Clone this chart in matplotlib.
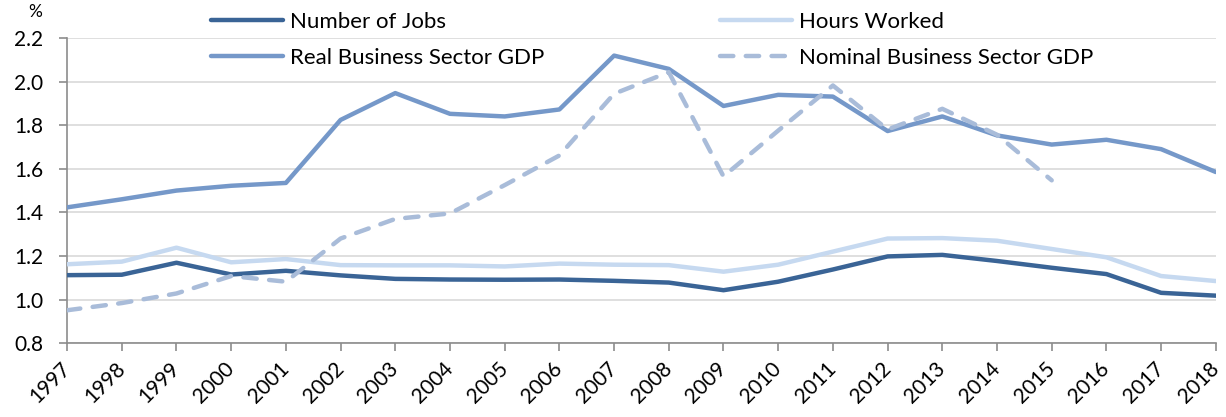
import matplotlib
matplotlib.use("Agg")
import matplotlib.pyplot as plt

years = list(range(1997, 2019))
jobs = [1.112, 1.114, 1.169, 1.115, 1.132, 1.111, 1.095, 1.092, 1.091, 1.092, 1.086,
        1.078, 1.043, 1.082, 1.138, 1.198, 1.205, 1.177, 1.146, 1.117, 1.031, 1.018]
hours = [1.162, 1.174, 1.238, 1.171, 1.186, 1.158, 1.157, 1.157, 1.152, 1.165, 1.160,
         1.158, 1.128, 1.160, 1.220, 1.280, 1.282, 1.270, 1.232, 1.194, 1.108, 1.085]
real_gdp = [1.423, 1.460, 1.500, 1.522, 1.535, 1.824, 1.947, 1.852, 1.840, 1.872, 2.119,
            2.058, 1.888, 1.939, 1.931, 1.773, 1.840, 1.753, 1.711, 1.733, 1.690, 1.585]
nominal_years = list(range(1997, 2016))
nominal_gdp = [0.951, 0.984, 1.028, 1.108, 1.082, 1.280, 1.370, 1.395, 1.525, 1.661, 1.944,
               2.043, 1.565, 1.775, 1.982, 1.780, 1.875, 1.756, 1.547]
y_ticks = [0.8, 1.0, 1.2, 1.4, 1.6, 1.8, 2.0, 2.2]

plt.rcParams['font.family'] = ['Lato', 'DejaVu Sans']

fig = plt.figure(figsize=(12.26, 4.17), dpi=100)
ax = fig.add_axes([0.0547, 0.177, 0.937, 0.732])

c_jobs = '#3A6496'
c_hours = '#C6D9F0'
c_real = '#7598C9'
c_nom = '#A9BCD9'

lw = 3.2
l_jobs, = ax.plot(years, jobs, color=c_jobs, lw=lw, label='Number of Jobs', zorder=4,
                  solid_capstyle='round')
l_hours, = ax.plot(years, hours, color=c_hours, lw=lw, label='Hours Worked', zorder=3,
                   solid_capstyle='round')
l_real, = ax.plot(years, real_gdp, color=c_real, lw=lw, label='Real Business Sector GDP',
                  zorder=3, solid_capstyle='round')
l_nom, = ax.plot(nominal_years, nominal_gdp, color=c_nom, lw=lw, ls=(0, (3.0, 2.8)),
                 label='Nominal Business Sector GDP', zorder=5, dash_capstyle='round')

ax.set_xlim(1997, 2018)
ax.set_ylim(0.8, 2.2)
ax.set_yticks(y_ticks)
ax.set_yticklabels([f'{v:.1f}' for v in y_ticks], fontsize=15)
ax.set_xticks(years)
ax.set_xticklabels([str(y) for y in years], rotation=45, ha='right', va='center',
                   rotation_mode='anchor', fontsize=15)
ax.grid(axis='y', color='#D9D9D9', lw=1.2, zorder=0)
ax.set_axisbelow(True)
for side in ['top', 'right']:
    ax.spines[side].set_visible(False)
for side in ['left', 'bottom']:
    ax.spines[side].set_color('#8C8C8C')
    ax.spines[side].set_linewidth(1.2)
ax.tick_params(axis='both', color='#8C8C8C', length=6, width=1.2)
ax.tick_params(axis='x', pad=10)
ax.tick_params(axis='y', pad=11)

fig.text(28 / 1226, 1 - 12 / 417, '%', fontsize=12.5, ha='left', va='center')

leg_kw = dict(loc='center left', frameon=False, fontsize=16, handlelength=3.25,
              handletextpad=0.32, labelspacing=0.72, borderpad=0, borderaxespad=0,
              bbox_transform=fig.transFigure)
leg1 = fig.legend(handles=[l_jobs, l_real], bbox_to_anchor=(211 / 1226, 1 - 40 / 417), **leg_kw)
leg2 = fig.legend(handles=[l_hours, l_nom], bbox_to_anchor=(720 / 1226, 1 - 40 / 417), **leg_kw)
for lg in (leg1, leg2):
    lg.set_zorder(10)

fig.savefig('out.png', dpi=100)
